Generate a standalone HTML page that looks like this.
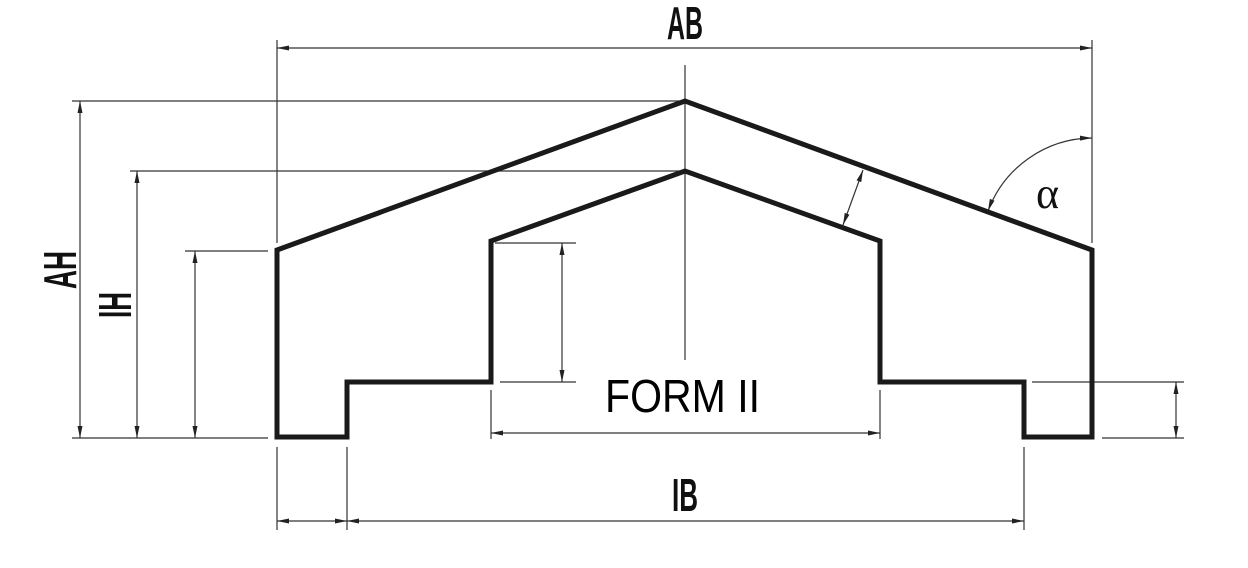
<!DOCTYPE html>
<html><head><style>html,body{margin:0;padding:0;background:#fff;}svg{display:block;}</style></head>
<body>
<svg width="1248" height="568" viewBox="0 0 1248 568" xmlns="http://www.w3.org/2000/svg">
<defs>
<marker id="a" viewBox="0 0 12 6" refX="12" refY="3" markerWidth="12" markerHeight="6" markerUnits="userSpaceOnUse" orient="auto-start-reverse"><path d="M0,0.5 L12,3 L0,5.5 Z" fill="#222"/></marker>
</defs>
<g stroke="#333" stroke-width="1.2" fill="none">
<line x1="277" y1="40" x2="277" y2="243"/>
<line x1="1092" y1="40" x2="1092" y2="243"/>
<line x1="685" y1="65" x2="685" y2="360"/>
<line x1="72" y1="101" x2="685" y2="101"/>
<line x1="72" y1="438" x2="268" y2="438"/>
<line x1="130" y1="171" x2="685" y2="171"/>
<line x1="185" y1="251" x2="268" y2="251"/>
<line x1="495" y1="243" x2="576" y2="243"/>
<line x1="500" y1="382" x2="576" y2="382"/>
<line x1="491" y1="390" x2="491" y2="439"/>
<line x1="880" y1="390" x2="880" y2="439"/>
<line x1="277" y1="447" x2="277" y2="530"/>
<line x1="347" y1="447" x2="347" y2="530"/>
<line x1="1024" y1="447" x2="1024" y2="530"/>
<line x1="1032" y1="382" x2="1184" y2="382"/>
<line x1="1102" y1="438" x2="1184" y2="438"/>
<line x1="277" y1="48" x2="1092" y2="48" marker-start="url(#a)" marker-end="url(#a)"/>
<line x1="80" y1="101" x2="80" y2="438" marker-start="url(#a)" marker-end="url(#a)"/>
<line x1="137" y1="171" x2="137" y2="438" marker-start="url(#a)" marker-end="url(#a)"/>
<line x1="195" y1="251" x2="195" y2="438" marker-start="url(#a)" marker-end="url(#a)"/>
<line x1="562" y1="243" x2="562" y2="382" marker-start="url(#a)" marker-end="url(#a)"/>
<line x1="491" y1="433" x2="880" y2="433" marker-start="url(#a)" marker-end="url(#a)"/>
<line x1="277" y1="521" x2="347" y2="521" marker-start="url(#a)" marker-end="url(#a)"/>
<line x1="347" y1="521" x2="1024" y2="521" marker-start="url(#a)" marker-end="url(#a)"/>
<line x1="1176" y1="382" x2="1176" y2="438" marker-start="url(#a)" marker-end="url(#a)"/>
<line x1="863" y1="170" x2="843" y2="225" marker-start="url(#a)" marker-end="url(#a)"/>
<path d="M1092,138 A112,112 0 0 0 988,211" marker-start="url(#a)" marker-end="url(#a)"/>
</g>
<path d="M277,250 L685,101 L1092,250 L1092,437 L1024,437 L1024,382 L880,382 L880,241 L685,171 L491,241 L491,382 L347,382 L347,437 L277,437 Z" fill="none" stroke="#1a1a1a" stroke-width="5" stroke-linejoin="miter"/>
<g font-family="Liberation Sans, sans-serif" fill="#111">
<text x="685" y="39" font-size="46" font-weight="bold" text-anchor="middle" textLength="36" lengthAdjust="spacingAndGlyphs">AB</text>
<text x="685" y="511" font-size="46" font-weight="bold" text-anchor="middle" textLength="26" lengthAdjust="spacingAndGlyphs">IB</text>
<text x="605" y="412" font-size="46" fill="#000" textLength="155" lengthAdjust="spacingAndGlyphs">FORM II</text>
<text transform="translate(76,270) rotate(-90)" font-size="46" font-weight="bold" text-anchor="middle" textLength="38" lengthAdjust="spacingAndGlyphs">AH</text>
<text transform="translate(131,305) rotate(-90)" font-size="46" font-weight="bold" text-anchor="middle" textLength="26" lengthAdjust="spacingAndGlyphs">IH</text>
<text x="1036" y="208" font-size="44" font-family="Liberation Serif, serif">α</text>
</g>
</svg>
</body></html>
